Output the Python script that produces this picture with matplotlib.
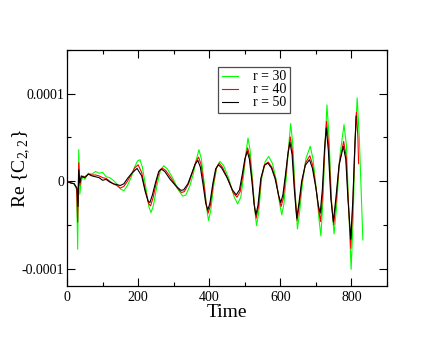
import numpy as np
import matplotlib
matplotlib.use("Agg")
import matplotlib.pyplot as plt
from matplotlib.ticker import MultipleLocator

# values, y in units of 1e-5
t_50 = [0, 10, 20, 28, 31, 33, 36, 40, 50, 60, 70, 80, 90, 100, 110, 120, 130, 140, 150, 160,
        170, 180, 190, 197, 210, 220, 228, 233, 240, 250, 258, 265, 275, 290, 305, 320, 328,
        340, 350, 360, 368, 375, 383, 390, 396, 402, 410, 418, 426, 435, 450, 465, 476, 485,
        493, 500, 507, 513, 520, 526, 531, 537, 545, 555, 565, 575, 585, 595, 601, 607, 614,
        621, 627, 633, 639, 646, 652, 660, 670, 682, 690, 700, 707, 712, 718, 724, 729, 735,
        742, 749, 756, 765, 777, 784, 790, 798, 804, 809, 813]
y_50 = [-0.05, -0.2, -0.3, -0.8, -2.9, 1.3, -0.2, 0.6, 0.4, 0.8, 0.6, 0.5, 0.4, 0.1, 0.2, -0.1,
        -0.3, -0.4, -0.5, -0.3, 0.3, 0.8, 1.2, 1.45, 0.6, -1.2, -2.3, -2.45, -1.6, 0.0, 1.1,
        1.38, 1.1, 0.2, -0.5, -1.05, -1.0, -0.3, 0.8, 1.9, 2.37, 1.6, -0.5, -2.5, -3.3, -2.5,
        -0.3, 1.4, 1.87, 1.5, 0.4, -1.0, -1.57, -1.0, 0.8, 2.5, 3.4, 2.5, 0.0, -2.6, -3.86,
        -2.8, 0.3, 1.8, 2.06, 1.5, 0.3, -1.6, -2.45, -1.6, 0.6, 3.0, 4.44, 3.0, -0.8, -4.24,
        -2.6, 0.0, 1.8, 2.45, 1.5, -0.8, -2.8, -3.67, -1.0, 3.5, 6.08, 3.5, -2.0, -4.63, -2.0,
        1.8, 3.98, 2.5, -2.0, -6.65, -2.0, 3.5, 7.42]

t_40 = [0, 10, 20, 27, 30, 33, 36, 40, 50, 60, 70, 80, 90, 100, 110, 120, 130, 140, 150, 160,
        170, 180, 190, 200, 210, 220, 230, 235, 242, 252, 260, 268, 278, 295, 310, 322, 330,
        342, 352, 362, 370, 377, 385, 392, 397, 403, 411, 420, 428, 437, 452, 467, 478, 487,
        495, 502, 508, 514, 521, 527, 532, 538, 546, 556, 566, 576, 587, 596, 602, 608, 615,
        622, 628, 634, 640, 647, 653, 661, 671, 683, 691, 701, 708, 713, 719, 725, 730, 736,
        743, 750, 757, 766, 778, 785, 791, 798, 804, 809, 814, 818, 820]
y_40 = [-0.05, -0.2, -0.3, -0.8, -4.7, 2.1, -0.5, 0.4, 0.5, 0.8, 0.7, 0.7, 0.6, 0.4, 0.3, 0.0,
        -0.3, -0.5, -0.8, -0.6, 0.0, 0.7, 1.5, 1.87, 1.0, -1.0, -2.6, -2.83, -1.9, 0.0, 1.2,
        1.49, 1.2, 0.2, -0.8, -1.3, -1.2, -0.3, 0.9, 2.2, 2.75, 1.9, -0.4, -2.8, -3.67, -2.8,
        -0.4, 1.5, 2.06, 1.6, 0.3, -1.3, -1.84, -1.2, 0.8, 2.8, 3.79, 2.8, 0.0, -2.8, -4.24,
        -3.0, 0.3, 1.9, 2.18, 1.6, 0.2, -1.9, -2.91, -2.0, 0.6, 3.4, 5.05, 3.4, -0.8, -4.51,
        -2.8, 0.0, 2.1, 2.91, 1.8, -1.0, -3.4, -4.63, -1.4, 3.8, 6.85, 4.0, -2.0, -5.0, -2.2,
        2.1, 4.55, 2.8, -2.2, -7.69, -2.5, 3.5, 7.88, 5.0, 2.0]

t_30 = [0, 10, 20, 27, 30, 33, 36, 40, 45, 50, 60, 70, 80, 90, 100, 110, 120, 130, 140, 150,
        160, 170, 180, 190, 198, 205, 212, 222, 230, 236, 243, 253, 262, 272, 282, 298, 313,
        325, 334, 345, 355, 364, 371, 378, 386, 393, 398, 404, 412, 421, 430, 440, 455, 470,
        480, 489, 497, 503, 509, 515, 522, 528, 533, 539, 547, 557, 567, 578, 589, 598, 604,
        610, 617, 624, 629, 635, 641, 648, 654, 662, 672, 684, 692, 702, 709, 714, 720, 726,
        731, 737, 744, 751, 758, 767, 779, 786, 792, 799, 805, 810, 816, 822, 828, 832]
y_30 = [0.0, -0.2, -0.3, -1.0, -7.8, 3.6, -1.5, 0.0, 0.6, 0.2, 0.9, 0.8, 1.1, 0.9, 1.0, 0.5,
        0.4, 0.1, -0.3, -0.9, -1.1, -0.5, 0.4, 1.6, 2.3, 2.45, 1.6, -0.8, -2.9, -3.6, -2.8,
        -0.5, 1.1, 1.76, 1.4, 0.3, -1.0, -1.7, -1.6, -0.6, 0.8, 2.5, 3.6, 2.5, -0.3, -3.2,
        -4.5, -3.4, -0.6, 1.6, 2.26, 1.8, 0.3, -1.8, -2.6, -1.8, 0.8, 3.2, 4.93, 3.5, 0.0,
        -3.2, -5.09, -3.6, 0.2, 2.2, 2.83, 2.0, 0.0, -2.6, -3.86, -2.6, 0.6, 4.3, 6.58, 4.2,
        -0.8, -5.47, -3.6, -0.3, 2.6, 3.98, 2.5, -1.3, -4.5, -6.27, -2.0, 4.5, 8.72, 5.0,
        -2.5, -6.04, -3.0, 2.8, 6.46, 4.0, -3.0, -10.1, -4.0, 4.5, 9.52, 5.0, -2.0, -6.73]

labels = ["r = 30", "r = 40", "r = 50"]
yticks = [-0.0001, 0, 0.0001]
yticklabels = ["-0.0001", "0", "0.0001"]

plt.rcParams["font.family"] = ["Liberation Serif", "DejaVu Serif"]
plt.rcParams["mathtext.fontset"] = "custom"
plt.rcParams["mathtext.rm"] = "Liberation Serif"

fig = plt.figure(figsize=(4.36, 3.37), dpi=100)
ax = fig.add_axes([0.1537, 0.1513, 0.734, 0.7003])

scale = 1e-5
ax.plot(t_30, np.array(y_30) * scale, color="#00ff00", lw=0.8, label=labels[0])
ax.plot(t_40, np.array(y_40) * scale, color="#ff0000", lw=0.8, label=labels[1])
ax.plot(t_50, np.array(y_50) * scale, color="black", lw=0.8, label=labels[2])

ax.set_xlim(0, 900)
ax.set_ylim(-0.00012, 0.00015)
ax.xaxis.set_major_locator(MultipleLocator(200))
ax.xaxis.set_minor_locator(MultipleLocator(100))
ax.set_yticks(yticks)
ax.set_yticklabels(yticklabels)
ax.yaxis.set_minor_locator(MultipleLocator(0.00005))
ax.tick_params(which="both", direction="in", top=True, right=True, labelsize=10)
ax.tick_params(axis="y", pad=2)
ax.tick_params(which="major", length=6, width=0.8)
ax.tick_params(which="minor", length=3, width=0.8)
for s in ax.spines.values():
    s.set_linewidth(0.9)

ax.set_xlabel("Time", fontsize=14, labelpad=0)
ax.set_ylabel(r"Re {C$_{\mathrm{2,2}}$}", fontsize=14)
ax.yaxis.set_label_coords(-0.11, 0.5)

# legend box in the upper middle, like the original
leg = ax.legend(loc="upper left", bbox_to_anchor=(0.472, 0.928), fontsize=10,
                fancybox=False, edgecolor="0.3", framealpha=1, handlelength=1.2,
                handletextpad=1.1, borderpad=0.25, labelspacing=0.0, borderaxespad=0)
leg.get_frame().set_linewidth(0.9)

fig.savefig("out.png", dpi=100)
